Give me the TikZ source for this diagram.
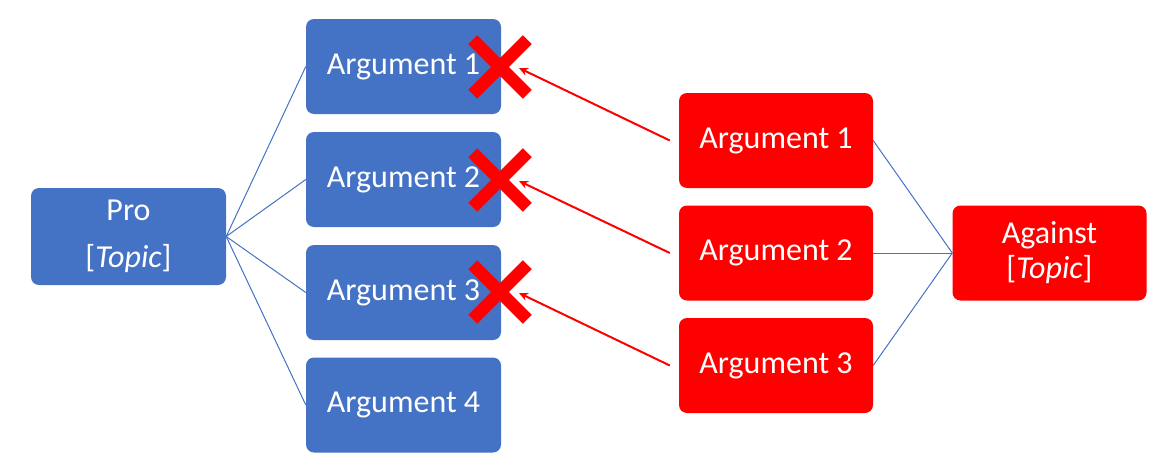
\documentclass[tikz,border=0pt]{standalone}
\usepackage{fontspec}
\setmainfont{Carlito}
\usetikzlibrary{arrows.meta,shapes.misc}
\definecolor{pblue}{HTML}{4472C4}
\definecolor{cred}{HTML}{FF0000}
\tikzset{
  box/.style={rounded corners=8pt, minimum width=195pt, minimum height=95pt, inner sep=0pt,
    text=white, font=\fontsize{32}{38}\selectfont, align=center},
  probox/.style={box, fill=pblue},
  conbox/.style={box, fill=cred, minimum width=194pt},
  link/.style={draw=pblue, line width=1pt},
  rebut/.style={draw=cred, line width=2pt, -{Stealth[length=9pt,width=8pt]}},
  xmark/.style={cross out, draw=cred, line width=12.5pt, minimum size=42pt, inner sep=0pt}
}
\begin{document}
\begin{tikzpicture}[x=1pt,y=-1pt]
\useasboundingbox (0,0) rectangle (1169,471);
\node[probox, minimum height=97pt, font=\fontsize{32}{47}\selectfont] (pro) at (128.5,236.5) {Pro\\{[}\textit{Topic}{]}};
\node[probox] (b1) at (403.5,66.5) {\raisebox{-3pt}{Argument 1}};
\node[probox] (b2) at (403.5,179.5) {\raisebox{-3pt}{Argument 2}};
\node[probox] (b3) at (403.5,292.5) {\raisebox{-3pt}{Argument 3}};
\node[probox] (b4) at (403.5,405) {\raisebox{-3pt}{Argument 4}};
\node[conbox] (r1) at (776,140.5) {\raisebox{-3pt}{Argument 1}};
\node[conbox] (r2) at (776,253) {\raisebox{-3pt}{Argument 2}};
\node[conbox] (r3) at (776,365.5) {\raisebox{-3pt}{Argument 3}};
\node[conbox, font=\fontsize{32}{35}\selectfont] (ag) at (1049.5,253) {Against\\{[}\textit{Topic}{]}};
\foreach \b in {b1,b2,b3,b4} \draw[link] (pro.east) -- (\b.west);
\foreach \r in {r1,r2,r3} \draw[link] (\r.east) -- (ag.west);
\node[xmark] (x1) at (500,67) {};
\node[xmark] (x2) at (500,180) {};
\node[xmark] (x3) at (500,292) {};
\coordinate (t1) at (519,68);
\coordinate (t2) at (519,181);
\coordinate (t3) at (519,293);
\draw[rebut] ([xshift=-9pt]r1.west) -- (t1);
\draw[rebut] ([xshift=-9pt]r2.west) -- (t2);
\draw[rebut] ([xshift=-9pt]r3.west) -- (t3);
\end{tikzpicture}
\end{document}
